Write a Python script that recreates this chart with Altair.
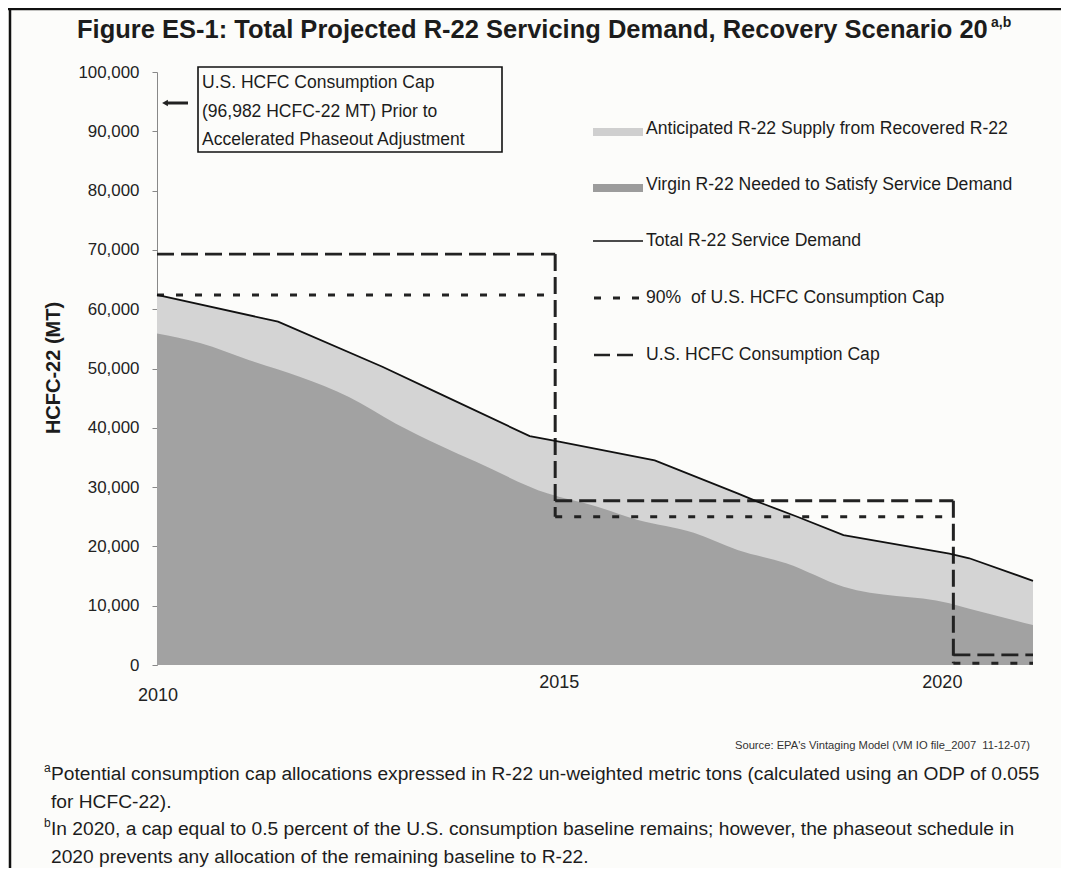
import altair as alt
import pandas as pd

# ---------------- data ----------------
demand_years = [2010.0, 2011.52, 2012.83, 2013.54, 2014.68, 2015.0, 2016.25, 2017.29,
                2017.54, 2018.04, 2018.62, 2019.95, 2020.2, 2021.0]
demand_mt = [62400, 57900, 50300, 45800, 38600, 37800, 34500, 28950,
             27550, 25000, 21900, 18800, 18000, 14200]

virgin_years = [2010.0, 2010.54, 2011.16, 2011.79, 2012.41, 2013.0, 2013.54, 2014.0,
                2014.91, 2015.5, 2016.04, 2016.74, 2017.29, 2017.9, 2018.62, 2019.95,
                2020.2, 2021.0]
virgin_mt = [55900, 54300, 51400, 48600, 45200, 40700, 37100, 34300,
             28900, 26800, 24450, 22300, 19400, 17150, 13200, 10400,
             9500, 6750]

# consumption cap periods (start year, end year) and levels
cap_start = [2010, 2015, 2020]
cap_end = [2015, 2020, 2021]
cap_mt = [69300, 27700, 1700]
cap90_mt = [62400, 25000, 300]

y_ticks = [0, 10000, 20000, 30000, 40000, 50000, 60000, 70000, 80000, 90000, 100000]
x_label_years = [2010, 2015, 2020]

title_text = "Figure ES-1: Total Projected R-22 Servicing Demand, Recovery Scenario 20"
title_sup = "a,b"
y_title = "HCFC-22 (MT)"
legend_labels = [
    "Anticipated R-22 Supply from Recovered R-22",
    "Virgin R-22 Needed to Satisfy Service Demand",
    "Total R-22 Service Demand",
    "90%\u00a0 of U.S. HCFC Consumption Cap",
    "U.S. HCFC Consumption Cap",
]
note_lines = ["U.S. HCFC Consumption Cap", "(96,982 HCFC-22 MT) Prior to",
              "Accelerated Phaseout Adjustment"]
source_text = "Source: EPA's Vintaging Model (VM IO file_2007\u00a0 11-12-07)"
foot_a = ["Potential consumption cap allocations expressed in R-22 un-weighted metric tons (calculated using an ODP of 0.055",
          "for HCFC-22)."]
foot_b = ["In 2020, a cap equal to 0.5 percent of the U.S. consumption baseline remains; however, the phaseout schedule in",
          "2020 prevents any allocation of the remaining baseline to R-22."]

# ---------------- styling ----------------
FONT = "Liberation Sans, Arial, sans-serif"
BOLD = "Liberation Sans, Arial, sans-serif"
BG = "#fcfcfa"
INK = "#1c1c1c"
W, H = 876, 593
PAD = {"left": 149, "top": 64, "right": 28, "bottom": 203}

XS = alt.Scale(domain=[2010, 2021], nice=False, zero=False)
YS = alt.Scale(domain=[0, 100000], nice=False)
Y_AXIS = alt.Axis(values=y_ticks, format=",d", title=None, grid=False,
                  labelFont=FONT, labelFontSize=16.9, labelColor="#222",
                  labelPadding=13, tickSize=5, tickColor="#888", tickWidth=1,
                  domainColor="#888", domainWidth=1)
x_enc = alt.X("year:Q", scale=XS, axis=None)
y_enc = alt.Y("mt:Q", scale=YS, axis=Y_AXIS)

df_demand = pd.DataFrame({"year": demand_years, "mt": demand_mt})
df_virgin = pd.DataFrame({"year": virgin_years, "mt": virgin_mt})
df_cap = pd.DataFrame({"year": cap_start, "year_end": cap_end, "mt": cap_mt, "mt90": cap90_mt})
# vertical steps where the cap drops: from the earlier cap level down to the later 90% level
df_steps = pd.DataFrame({"year": cap_start[1:], "mt": cap_mt[:-1], "mt_low": cap90_mt[1:]})
df_xl = pd.DataFrame({"year": x_label_years})
one = pd.DataFrame({"k": [0]})

light = alt.Chart(df_demand).mark_area(color="#d4d4d4").encode(x_enc, y_enc)
dark = alt.Chart(df_virgin).mark_area(color="#a2a2a2", interpolate="monotone").encode(x_enc, y_enc)
cap_h = alt.Chart(df_cap).mark_rule(color="#222", strokeWidth=2.8, strokeDash=[17, 7]).encode(
    x=x_enc, x2="year_end:Q", y=y_enc)
cap90_h = alt.Chart(df_cap).mark_rule(color="#222", strokeWidth=3, strokeDash=[7, 12]).encode(
    x=x_enc, x2="year_end:Q", y=alt.Y("mt90:Q", scale=YS, axis=Y_AXIS))
steps = alt.Chart(df_steps).mark_rule(color="#222", strokeWidth=3, strokeDash=[17, 6]).encode(
    x=x_enc, y=y_enc, y2="mt_low:Q")
demand = alt.Chart(df_demand).mark_line(color="#111", strokeWidth=1.8).encode(x_enc, y_enc)


def xlabel(year, dx, y):
    return (alt.Chart(df_xl).transform_filter(f"datum.year == {year}")
            .mark_text(font=FONT, fontSize=18, color="#222", dx=dx, baseline="middle", align="center")
            .encode(x=x_enc, y=alt.value(y), text=alt.Text("year:Q", format="d")))


def txt(text, x, y, **kw):
    return alt.Chart(one).mark_text(text=text, **kw).encode(x=alt.value(x), y=alt.value(y))


def rule(x, y, x2=None, y2=None, **kw):
    enc = {"x": alt.value(x), "y": alt.value(y)}
    if x2 is not None:
        enc["x2"] = alt.value(x2)
    if y2 is not None:
        enc["y2"] = alt.value(y2)
    return alt.Chart(one).mark_rule(**kw).encode(**enc)


def box(x, x2, y, y2, **kw):
    return alt.Chart(one).mark_rect(**kw).encode(
        x=alt.value(x), x2=alt.value(x2), y=alt.value(y), y2=alt.value(y2))


layers = [light, dark, cap_h, cap90_h, steps, demand,
          xlabel(2010, 1, 624), xlabel(2015, 4, 611), xlabel(2020, -11, 611)]

# frame
layers += [
    rule(-147, -64, y2=H + PAD["bottom"], color="#111", strokeWidth=2.5),
    rule(-149, -63, x2=W + PAD["right"], color="#111", strokeWidth=2.5),
]

# title
layers += [
    txt(title_text, -80, -34, font=BOLD, fontWeight="bold", fontSize=25.5, color=INK,
        align="left", baseline="alphabetic"),
    txt(title_sup, 834, -45, font=BOLD, fontWeight="bold", fontSize=14, color=INK,
        align="left", baseline="alphabetic"),
]

# y axis title
layers.append(txt(y_title, -103, 296, font=BOLD, fontWeight="bold", fontSize=20, color=INK,
                  angle=270, align="center", baseline="middle"))

# annotation box with arrow
layers += [
    box(41, 345, -5, 80, fill=BG, stroke="#111", strokeWidth=1.6),
    txt(note_lines, 45, 16, font=FONT, fontSize=17.5, color=INK, align="left",
        baseline="alphabetic", lineHeight=28.5),
    rule(10, 31, x2=31, color="#222", strokeWidth=3),
    alt.Chart(one).mark_point(shape="triangle-left", filled=True, color="#222", size=45, opacity=1)
    .encode(x=alt.value(8), y=alt.value(31)),
]

# legend
LX, LX2, TX = 436, 486, 489
rows = [57, 113, 169, 226, 283]
layers += [
    box(LX, LX2, rows[0] - 1, rows[0] + 7, fill="#cfcfcf"),
    box(LX, LX2, rows[1] - 1, rows[1] + 7, fill="#9c9c9c"),
    rule(LX, rows[2], x2=LX2, color="#111", strokeWidth=1.6),
    rule(LX + 1, rows[3], x2=LX2 - 2, color="#222", strokeWidth=3, strokeDash=[7, 12]),
    rule(LX + 1, rows[4], x2=LX2 - 10, color="#222", strokeWidth=2.4, strokeDash=[16, 7]),
]
for lab, ry in zip(legend_labels, rows):
    layers.append(txt(lab, TX, ry, font=FONT, fontSize=17.6, color=INK, align="left",
                      baseline="middle"))

# source and footnotes
layers += [
    txt(source_text, 873, 677, font=FONT, fontSize=11.2, color="#333", align="right",
        baseline="alphabetic"),
    txt("a", -113, 700, font=FONT, fontSize=12, color=INK, align="left", baseline="alphabetic"),
    txt(foot_a, -106, 708, font=FONT, fontSize=19.2, color=INK, align="left",
        baseline="alphabetic", lineHeight=27.5),
    txt("b", -113, 755, font=FONT, fontSize=12, color=INK, align="left", baseline="alphabetic"),
    txt(foot_b, -106, 763, font=FONT, fontSize=19.2, color=INK, align="left",
        baseline="alphabetic", lineHeight=27.5),
]

chart = (
    alt.layer(*layers)
    .properties(width=W, height=H, padding=PAD,
                autosize=alt.AutoSizeParams(type="none"), background=BG)
    .configure_view(strokeWidth=0)
)

chart.save("out.html", embed_options={"renderer": "svg", "actions": False})
